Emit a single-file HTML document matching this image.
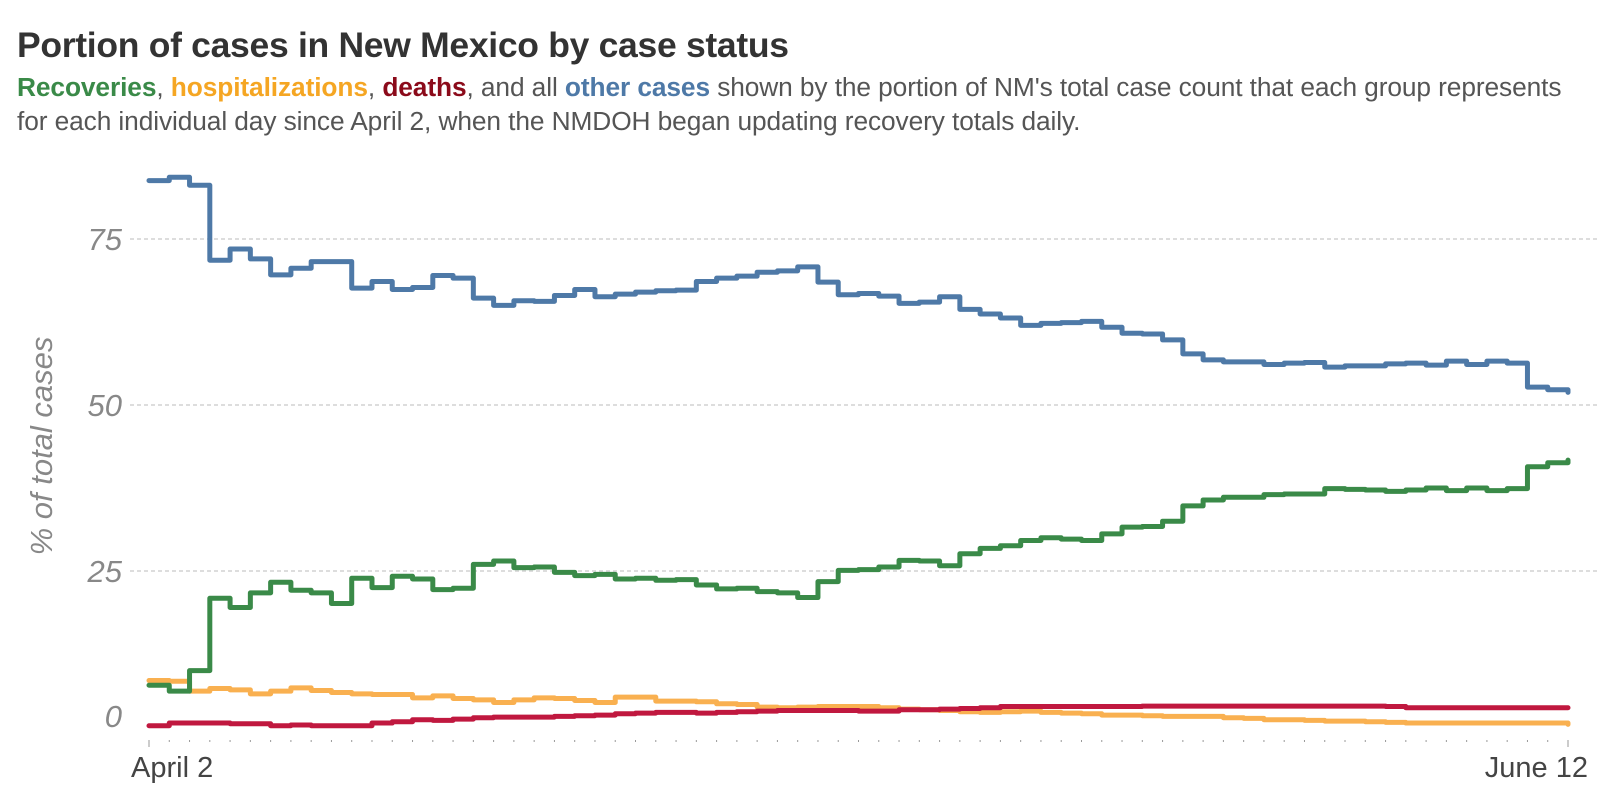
<!DOCTYPE html>
<html><head><meta charset="utf-8">
<style>
body{margin:0;background:#fff;font-family:"Liberation Sans",Arial,sans-serif;}
#wrap{position:relative;width:1600px;height:800px;overflow:hidden;}
h1{position:absolute;left:17px;top:25px;margin:0;font-size:35.5px;font-weight:bold;color:#333;letter-spacing:-0.3px;}
.sub{position:absolute;left:17px;top:70px;margin:0;font-size:26.3px;line-height:34px;color:#555;width:1600px;letter-spacing:-0.1px;white-space:nowrap;}
.sub b{font-weight:bold;}
</style></head><body>
<div id="wrap">
<h1>Portion of cases in New Mexico by case status</h1>
<p class="sub"><b style="color:#3a8a48">Recoveries</b>, <b style="color:#f5a623">hospitalizations</b>, <b style="color:#8b0a1a">deaths</b>, and all <b style="color:#4e79a7">other cases</b> shown by the portion of NM's total case count that each group represents<br>for each individual day since April 2, when the NMDOH began updating recovery totals daily.</p>
<svg id="chart" width="1600" height="800" style="position:absolute;left:0;top:0"></svg>
</div>
<script>
const yTicks=[0,25,50,75];
const xLabels=["April 2","June 12"];
const other=[83.8,84.3,83.1,71.8,73.5,72.0,69.6,70.6,71.6,71.6,67.6,68.6,67.4,67.7,69.5,69.1,66.1,65.0,65.7,65.6,66.5,67.4,66.3,66.7,67.0,67.2,67.3,68.6,69.1,69.4,70.0,70.2,70.8,68.5,66.6,66.8,66.4,65.3,65.5,66.3,64.4,63.7,63.1,62.0,62.3,62.4,62.6,61.7,60.8,60.7,59.8,57.7,56.8,56.5,56.5,56.1,56.3,56.4,55.7,55.9,55.9,56.2,56.3,56.0,56.6,56.1,56.6,56.3,52.7,52.3,51.9];
const recoveries=[7.8,6.9,10.0,20.9,19.5,21.7,23.3,22.1,21.7,20.1,23.9,22.5,24.2,23.8,22.2,22.4,26.0,26.5,25.5,25.6,24.8,24.3,24.5,23.8,23.9,23.6,23.7,22.9,22.3,22.4,21.9,21.7,21.0,23.4,25.1,25.2,25.6,26.6,26.5,25.8,27.6,28.4,28.8,29.6,30.0,29.8,29.6,30.6,31.6,31.7,32.5,34.8,35.7,36.1,36.1,36.5,36.6,36.6,37.4,37.3,37.2,37.0,37.2,37.5,37.1,37.5,37.1,37.4,40.7,41.3,41.7];
const hospital=[8.5,8.4,6.9,7.3,7.1,6.5,6.9,7.4,7.0,6.7,6.5,6.4,6.4,5.9,6.2,5.8,5.6,5.2,5.6,5.9,5.8,5.5,5.2,6.0,6.0,5.4,5.4,5.3,5.0,4.9,4.5,4.4,4.5,4.6,4.6,4.6,4.4,4.2,4.1,4.0,3.8,3.7,3.8,3.9,3.7,3.6,3.5,3.3,3.3,3.2,3.1,3.1,3.1,2.9,2.8,2.6,2.6,2.5,2.4,2.4,2.3,2.2,2.1,2.1,2.1,2.1,2.1,2.1,2.1,2.1,1.9];
const deaths=[1.7,2.1,2.1,2.1,2.0,2.0,1.7,1.8,1.7,1.7,1.7,2.1,2.3,2.6,2.5,2.7,2.9,3.0,3.0,3.0,3.1,3.2,3.3,3.5,3.6,3.7,3.7,3.6,3.7,3.8,3.9,4.0,4.0,4.0,4.0,3.9,3.9,4.1,4.1,4.2,4.3,4.4,4.6,4.6,4.6,4.6,4.6,4.6,4.6,4.65,4.65,4.65,4.65,4.65,4.65,4.65,4.65,4.65,4.65,4.65,4.65,4.6,4.4,4.4,4.4,4.4,4.4,4.4,4.4,4.4,4.4];

const NS="http://www.w3.org/2000/svg";
const svg=document.getElementById('chart');
const X0=149,X1=1568,Y0=737,PX=6.64;
const n=other.length;
function xs(i){return X0+i*(X1-X0)/(n-1);}
function ys(v){return Y0-v*PX;}
function mk(t,a){const e=document.createElementNS(NS,t);for(const k in a)e.setAttribute(k,a[k]);svg.appendChild(e);return e;}

yTicks.forEach(t=>{
  if(t>0){
    const g=mk('line',{x1:130,x2:1600,y1:ys(t),y2:ys(t),stroke:'#bbb','stroke-width':1,'stroke-dasharray':'4,3'});
    
    
  }
  const l=mk('text',{x:122,y:t===0?ys(t)-10:ys(t)+11,'text-anchor':'end','font-size':31,'font-style':'italic',fill:'#888','font-family':'Liberation Sans, sans-serif'});
  l.textContent=t;
  
  
});
const yt=mk('text',{x:0,y:0,transform:'translate(52,446) rotate(-90)','text-anchor':'middle','font-size':31,'font-style':'italic',fill:'#888','font-family':'Liberation Sans, sans-serif'});
yt.textContent='% of total cases';



for(let i=0;i<n;i++){
  const big=(i===0||i===n-1);
  const tk=mk('line',{x1:xs(i),x2:xs(i),y1:740,y2:big?747:742,stroke:'#999','stroke-width':1});
  
  
}
[0,n-1].forEach((idx,j)=>{
  const l=mk('text',{x:j===0?131:1588,y:777,'text-anchor':j===0?'start':'end','font-size':29,fill:'#444','font-family':'Liberation Sans, sans-serif'});
  l.textContent=xLabels[j];
  
  
});

function step(arr,color,name){
  let d='M'+xs(0)+','+ys(arr[0]);
  for(let i=1;i<arr.length;i++){d+=' H'+xs(i)+' V'+ys(arr[i]);}
  const p=mk('path',{d:d,fill:'none',stroke:color,'stroke-width':5,'stroke-linejoin':'round','stroke-linecap':'round'});
  
  
}
step(hospital,'#f9b050','line-hospitalizations');
step(deaths,'#c0183f','line-deaths');
step(recoveries,'#3a8a48','line-recoveries');
step(other,'#4e79a7','line-other-cases');
</script>
</body></html>
